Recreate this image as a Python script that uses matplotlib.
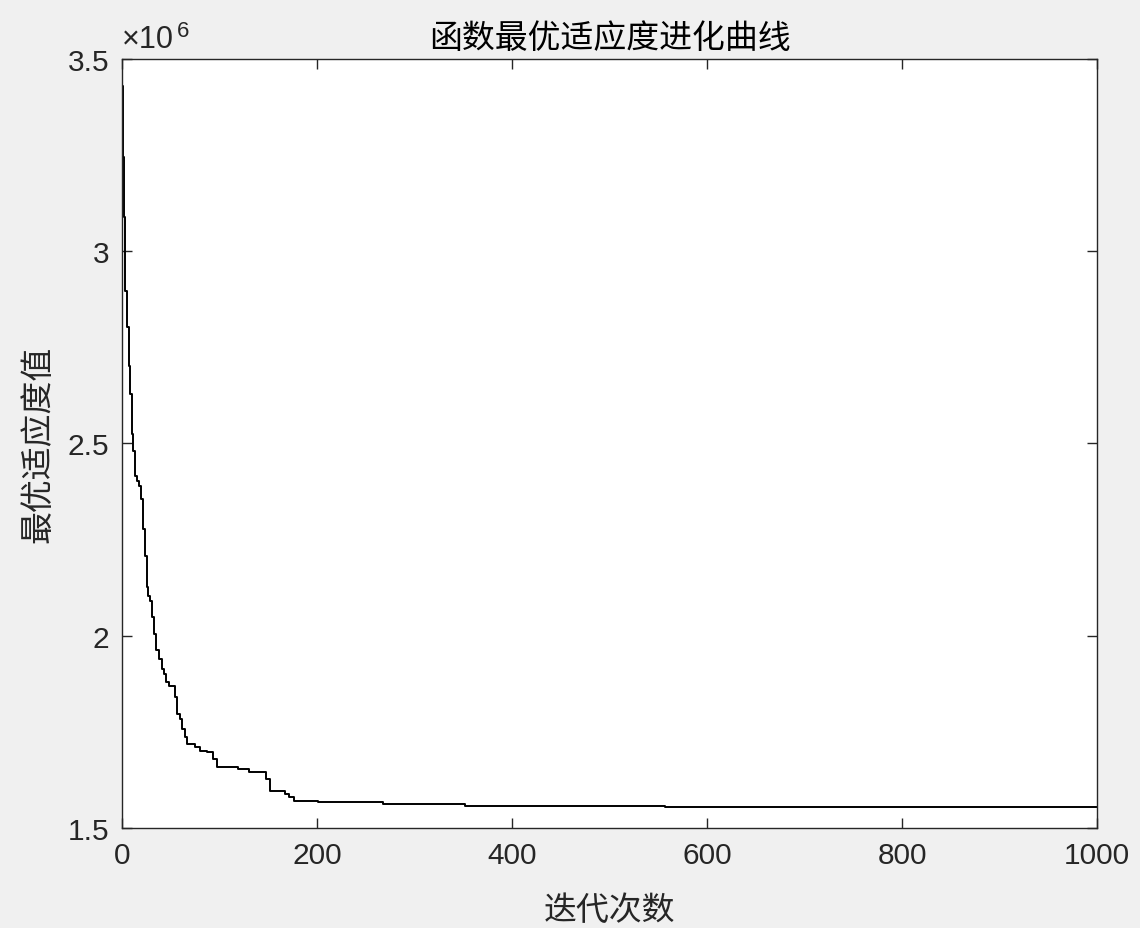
import matplotlib
matplotlib.use("Agg")
import matplotlib.pyplot as plt
from matplotlib.ticker import FuncFormatter

plt.rcParams['font.family'] = ['Liberation Sans', 'Noto Sans CJK SC', 'DejaVu Sans']

# Generations at which the best fitness improves, and the new best value
gens = [0, 1, 2, 3, 5, 7, 8, 10, 11, 13, 15, 17, 19, 20, 22, 24, 26, 27, 29, 31,
        33, 35, 38, 41, 43, 45, 48, 54, 56, 60, 62, 65, 67, 75, 80, 87, 93, 97,
        119, 130, 148, 152, 167, 171, 176, 201, 268, 352, 557, 1000]
best_fitness = [3.429e6, 3.244e6, 3.088e6, 2.896e6, 2.802e6, 2.701e6, 2.628e6,
                2.524e6, 2.481e6, 2.416e6, 2.403e6, 2.390e6, 2.381e6, 2.355e6,
                2.277e6, 2.208e6, 2.126e6, 2.104e6, 2.091e6, 2.048e6, 2.004e6,
                1.963e6, 1.939e6, 1.913e6, 1.900e6, 1.880e6, 1.870e6, 1.840e6,
                1.797e6, 1.784e6, 1.758e6, 1.736e6, 1.719e6, 1.710e6, 1.701e6,
                1.697e6, 1.680e6, 1.658e6, 1.654e6, 1.645e6, 1.628e6, 1.597e6,
                1.589e6, 1.580e6, 1.571e6, 1.567e6, 1.563e6, 1.558e6, 1.554e6,
                1.554e6]

x_ticks = [0, 200, 400, 600, 800, 1000]
y_ticks = [1.5e6, 2.0e6, 2.5e6, 3.0e6, 3.5e6]

title = '函数最优适应度进化曲线'
xlabel = '迭代次数'
ylabel = '最优适应度值'

fig = plt.figure(figsize=(11.4, 9.29), dpi=100, facecolor='#f0f0f0')
ax = fig.add_axes([0.107, 0.1076, 0.8553, 0.8283])
ax.set_facecolor('white')

ax.plot(gens, best_fitness, drawstyle='steps-post', color='black', linewidth=1.4)

ax.set_xlim(0, 1000)
ax.set_ylim(1.5e6, 3.5e6)
ax.set_xticks(x_ticks)
ax.set_yticks(y_ticks)
ax.yaxis.set_major_formatter(FuncFormatter(lambda v, p: f'{v/1e6:g}'))

tc = '#262626'
for s in ax.spines.values():
    s.set_color(tc)
    s.set_linewidth(1.0)
ax.tick_params(direction='in', length=7, width=1.0, color=tc, labelcolor=tc,
               labelsize=21.5, top=True, right=True, pad=9)

cjk = ['Noto Sans CJK SC', 'DejaVu Sans']
ax.set_title(title, fontsize=23.7, family=cjk, color='#000000', pad=8)
ax.set_xlabel(xlabel, fontsize=23.7, family=cjk, color=tc, labelpad=18)
ax.set_ylabel(ylabel, fontsize=23.7, family=cjk, color=tc, labelpad=10)

t1 = ax.text(0.0, 1.006, '×10', transform=ax.transAxes, fontsize=22,
             color=tc, ha='left', va='bottom')
ax.annotate('6', xy=(1, 1), xycoords=t1, xytext=(2, 3),
            textcoords='offset points', fontsize=16, color=tc,
            ha='left', va='top')

fig.savefig('out.png', dpi=100, facecolor=fig.get_facecolor())
